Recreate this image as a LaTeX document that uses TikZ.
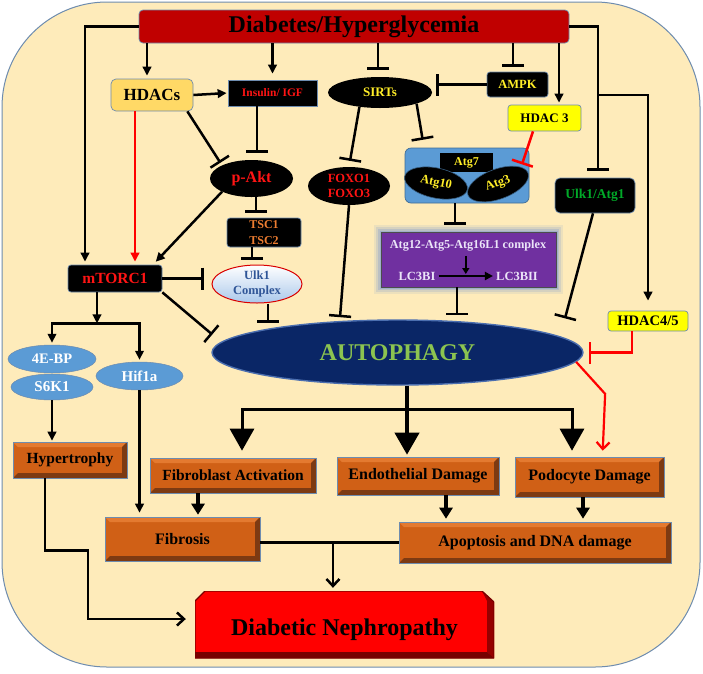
\documentclass[tikz,border=0pt]{standalone}
\usepackage{fontspec}
\setmainfont{Liberation Serif}
\usetikzlibrary{arrows.meta,shapes.geometric,calc}
\definecolor{bgc}{RGB}{254,235,186}
\definecolor{bordc}{RGB}{110,140,175}
\definecolor{diabc}{RGB}{192,0,0}
\definecolor{hdacc}{RGB}{255,217,102}
\definecolor{yel}{RGB}{255,255,0}
\definecolor{txtyel}{RGB}{255,238,40}
\definecolor{txtred}{RGB}{255,20,20}
\definecolor{blu}{RGB}{91,155,213}
\definecolor{purp}{RGB}{112,48,160}
\definecolor{tscc}{RGB}{237,125,49}
\definecolor{ulkt}{RGB}{47,85,151}
\definecolor{ulkbot}{RGB}{170,200,235}
\definecolor{grn}{RGB}{0,170,40}
\definecolor{autog}{RGB}{140,196,80}
\definecolor{navyf}{RGB}{10,38,102}
\definecolor{navyr}{RGB}{75,110,175}
\definecolor{orf}{RGB}{208,96,22}
\definecolor{ordk}{RGB}{125,58,18}
\definecolor{orlt}{RGB}{228,122,48}
\definecolor{dnred}{RGB}{255,0,0}
\definecolor{dndk}{RGB}{150,0,0}
\definecolor{dndk2}{RGB}{120,0,0}
\definecolor{glowc}{RGB}{110,145,210}
\definecolor{lctxt}{RGB}{235,228,248}
\newcommand{\fsz}[2]{\fontsize{#1pt}{#2pt}\selectfont\bfseries}
\begin{document}
\begin{tikzpicture}[x=1pt,y=-1pt,
 ln/.style={line width=2.5pt, line join=miter},
 arr/.style={-{Triangle[length=9pt,width=8.5pt]}},
 inh/.style={-{Bar[width=22pt]}},
 oarr/.style={-{Straight Barb[length=7pt,width=13pt]}},
 bigtip/.style={-{Triangle[length=22pt,width=24pt]}},
 medarr/.style={line width=3.5pt,-{Triangle[length=11pt,width=13pt]}},
 bx/.style={inner sep=0pt, align=center, draw=bordc, line width=0.7pt},
 blk/.style={bx, fill=black},
 el/.style={ellipse, inner sep=0pt, align=center},
 bev/.style={bx, fill=orf, line width=0.6pt, font=\fsz{16}{18},
  path picture={
   \fill[orlt] (path picture bounding box.north west) -- (path picture bounding box.north east) -- ([xshift=-5pt,yshift=-5pt]path picture bounding box.north east) -- ([xshift=5pt,yshift=-5pt]path picture bounding box.north west) -- cycle;
   \fill[ordk] (path picture bounding box.north east) -- (path picture bounding box.south east) -- (path picture bounding box.south west) -- ([xshift=5pt,yshift=5pt]path picture bounding box.south west) -- ([xshift=-5pt,yshift=5pt]path picture bounding box.south east) -- ([xshift=-5pt,yshift=-5pt]path picture bounding box.north east) -- cycle;
  }},
]
\fill[white] (0,0) rectangle (703,673);
\useasboundingbox (0,0) rectangle (703,673);
\draw[bordc, line width=1pt, fill=bgc, rounded corners=105pt] (2,2) rectangle (700,667);

% nodes
\node[bx, fill=diabc, rounded corners=4pt, minimum width=430pt, minimum height=33pt, font=\fsz{24}{28}] (diab) at (354,26.5) {Diabetes/Hyperglycemia};
\node[bx, fill=hdacc, rounded corners=5pt, minimum width=82pt, minimum height=32pt, font=\fsz{17}{20}] (hdacs) at (152,95) {HDACs};
\node[blk, minimum width=89pt, minimum height=26pt, text=txtred, font=\fsz{11.5}{13}] (ins) at (272.5,93) {Insulin/ IGF};
\node[el, fill=black, minimum width=83pt, minimum height=37pt, text=txtred, font=\fsz{16}{18}] (pakt) at (251.5,178.5) {p-Akt};
\node[el, fill=black, minimum width=104pt, minimum height=31pt, text=txtyel, font=\fsz{13}{15}] (sirts) at (380,92.5) {SIRTs};
\node[blk, rounded corners=3pt, minimum width=61pt, minimum height=25pt, text=txtyel, font=\fsz{12.5}{14}] (ampk) at (517.5,84.5) {AMPK};
\node[bx, fill=yel, rounded corners=3pt, minimum width=73pt, minimum height=26pt, font=\fsz{13}{15}] (hdac3) at (544.5,118) {HDAC 3};
\node[el, fill=black, minimum width=82pt, minimum height=38pt, text=txtred, font=\fsz{12.5}{15}] (foxo) at (349,186) {FOXO1\\FOXO3};
\node[blk, rounded corners=3pt, minimum width=74pt, minimum height=29pt, text=tscc, font=\fsz{12}{15.5}] (tsc) at (264,232.5) {TSC1\\TSC2};
\node[blk, rounded corners=3pt, minimum width=94pt, minimum height=27pt, text=txtred, font=\fsz{15.5}{18}] (mtor) at (115,278.5) {mTORC1};
\node[el, top color=white, bottom color=ulkbot, draw=red!85!black, line width=1pt, minimum width=90pt, minimum height=38pt, text=ulkt, font=\fsz{12.5}{15.5}] (ulkc) at (257,284) {Ulk1\\Complex};

\node[bx, fill=blu, draw=blu!70!black, rounded corners=6pt, minimum width=124pt, minimum height=55pt] (atgc) at (467,175.5) {};
\node[fill=black, inner sep=0pt, minimum width=53pt, minimum height=19pt, text=txtyel, font=\fsz{12}{14}] (atg7) at (466.5,162.5) {Atg7};
\node[el, fill=black, draw=blu!60!black, line width=0.6pt, minimum width=64pt, minimum height=30pt, rotate=-12, text=txtyel, font=\fsz{12.5}{14}] (atg10) at (436,183) {Atg10};
\node[el, fill=black, draw=blu!60!black, line width=0.6pt, minimum width=64pt, minimum height=30pt, rotate=20, text=txtyel, font=\fsz{12.5}{14}] (atg3) at (498,184) {Atg3};

\foreach \w/\o in {14/0.12,10/0.18,6/0.25,3/0.35}
  \draw[glowc, line width=\w pt, opacity=\o] (381,232) rectangle (556,287);
\node[fill=purp, draw=black!70, line width=0.8pt, minimum width=175pt, minimum height=55pt, inner sep=0pt] (purple) at (468.5,259.5) {};
\node[inner sep=0pt, text=lctxt, font=\fsz{12.2}{14}] (cplx) at (468,246) {Atg12-Atg5-Atg16L1 complex};
\node[inner sep=0pt, text=lctxt, font=\fsz{12.5}{14}] (lc1) at (417,276) {LC3BI};
\node[inner sep=0pt, text=lctxt, font=\fsz{12.5}{14}] (lc2) at (517,276) {LC3BII};

\node[blk, rounded corners=5pt, minimum width=80pt, minimum height=35pt, text=grn, font=\fsz{13.5}{16}] (ulka) at (595,195.5) {Ulk1/Atg1};
\node[bx, fill=yel, rounded corners=3pt, minimum width=80pt, minimum height=20pt, font=\fsz{14.5}{16}] (hdac45) at (648,321) {HDAC4/5};

\node[el, fill=navyf, draw=navyr, line width=1.4pt, minimum width=371pt, minimum height=65pt, text=autog, font=\fsz{24}{28}] (auto) at (397.5,352.5) {AUTOPHAGY};

\node[el, fill=blu, draw=bordc, line width=0.5pt, minimum width=88pt, minimum height=28pt, text=white, font=\fsz{14.5}{16}] (ebp) at (52,359) {4E-BP};
\node[el, fill=blu, draw=bordc, line width=0.5pt, minimum width=82pt, minimum height=26pt, text=white, font=\fsz{15}{16}] (s6k) at (52,387) {S6K1};
\node[el, fill=blu, draw=bordc, line width=0.5pt, minimum width=87pt, minimum height=28pt, text=white, font=\fsz{15}{16}] (hif) at (139.5,376) {Hif1a};

\node[bev, minimum width=114pt, minimum height=36pt, font=\fsz{15.5}{18}] (hyper) at (70,460) {Hypertrophy};
\node[bev, minimum width=166pt, minimum height=35pt, font=\fsz{15.5}{18}] (fibact) at (233,475.5) {Fibroblast Activation};
\node[bev, minimum width=162pt, minimum height=38pt] (endo) at (418,476) {Endothelial Damage};
\node[bev, minimum width=149pt, minimum height=40pt] (podo) at (589.5,477) {Podocyte Damage};
\node[bev, minimum width=155pt, minimum height=44pt] (fibro) at (182.5,539) {Fibrosis};
\node[bev, minimum width=272pt, minimum height=41pt] (apop) at (535,542.5) {Apoptosis and DNA damage};

\node[inner sep=0pt, minimum width=299pt, minimum height=67pt, text height=22pt, text depth=0pt, font=\fsz{24}{28},
 path picture={
  \fill[dnred] ([xshift=10pt]path picture bounding box.north west) -- ([xshift=-12pt]path picture bounding box.north east) -- ([yshift=-11pt]path picture bounding box.north east) -- (path picture bounding box.south east) -- (path picture bounding box.south west) -- ([yshift=-10pt]path picture bounding box.north west) -- cycle;
  \fill[dndk] ([xshift=-12pt]path picture bounding box.north east) -- ([yshift=-11pt]path picture bounding box.north east) -- (path picture bounding box.south east) -- ([xshift=-7pt,yshift=6pt]path picture bounding box.south east) -- ([xshift=-7pt,yshift=-10pt]path picture bounding box.north east) -- cycle;
  \fill[dndk2] ([xshift=-7pt,yshift=6pt]path picture bounding box.south east) -- (path picture bounding box.south east) -- (path picture bounding box.south west) -- ([yshift=6pt]path picture bounding box.south west) -- cycle;
  \draw[dndk2, line width=1.2pt] ([xshift=10pt]path picture bounding box.north west) -- ([xshift=-12pt]path picture bounding box.north east) -- ([yshift=-11pt]path picture bounding box.north east) -- (path picture bounding box.south east) -- (path picture bounding box.south west) -- ([yshift=-10pt]path picture bounding box.north west) -- cycle;
 }] (dn) at (344.5,624.5) {Diabetic Nephropathy};

% connectors
\draw[ln,arr,shorten >=3pt] (diab.west) -| ([xshift=-30pt]mtor.north);
\draw[ln,arr,shorten >=3pt] ([xshift=-5pt]hdacs.north |- diab.south) -- ([xshift=-5pt]hdacs.north);
\draw[ln,arr,shorten >=6pt] (ins.north |- diab.south) -- (ins.north);
\draw[ln,arr,shorten >=1pt] (hdacs.east) -- (ins.west);
\draw[ln,inh,shorten >=3pt] ([xshift=-6pt]hdacs.south east) -- (pakt.north west);
\draw[ln,inh,shorten >=7pt] ([xshift=-15.5pt]ins.south) -- ([xshift=5.5pt]pakt.north);
\draw[ln,red,arr,shorten >=3pt] ([xshift=-17pt]hdacs.south) -- ([xshift=20pt]mtor.north);
\draw[ln,arr,shorten >=4pt] (pakt.south west) -- ([xshift=38pt]mtor.north);
\draw[ln,inh,shorten >=5pt] ([xshift=4.5pt]pakt.south) -- ([xshift=-8pt]tsc.north);
\draw[ln,inh,shorten >=5pt] ([xshift=-12pt]tsc.south) -- ([xshift=-5pt]ulkc.north);
\draw[ln,inh,shorten >=8pt] (mtor.east) -- (mtor.east -| ulkc.west);
\draw[ln,inh] (mtor.south east) -- ([xshift=1pt,yshift=18pt]auto.west);
\draw[ln,inh] ([xshift=11pt]ulkc.south) -- ++(0,19);
\draw[ln,inh] (foxo.south) -- ++(-9,112);
\draw[ln,inh,shorten >=7pt] ([xshift=-2pt]sirts.north |- diab.south) -- ([xshift=-2pt]sirts.north);
\draw[ln,inh,shorten >=6pt] (sirts.-145) -- (foxo.north);
\draw[ln,inh,shorten >=8pt] (sirts.-17) -- ([xshift=-43pt]atgc.north);
\draw[ln,inh,shorten >=5pt] ([xshift=-4.5pt]ampk.north |- diab.south) -- ([xshift=-4.5pt]ampk.north);
\draw[ln,inh,shorten >=4pt] (ampk.west) -- (ampk.west -| sirts.east);
\draw[ln,arr,shorten >=2pt] ([xshift=14.5pt]hdac3.north |- diab.south) -- ([xshift=14.5pt]hdac3.north);
\draw[ln,red,inh] ([xshift=-11.5pt]hdac3.south) -- ++(-11,33);
\draw[ln,inh,shorten >=7pt] ([xshift=-12pt]atgc.south) -- ([xshift=-12pt]atgc.south |- purple.north);
\coordinate (lcm) at ($(lc1.east)!0.5!(lc2.west)$);
\draw[line width=2pt,-{Triangle[length=8pt,width=8pt]},shorten <=3pt,shorten >=3pt] (lc1.east) -- (lc2.west);
\draw[line width=2pt,-{Triangle[length=6pt,width=7pt]},shorten <=4pt,shorten >=2pt] (lcm |- cplx.south) -- (lcm);
\draw[ln,inh] ([xshift=-11.5pt]purple.south) -- ++(0,28);
\draw[ln,inh] ([xshift=-2pt]ulka.south) -- ++(-28,105);
\draw[ln,inh,shorten >=7pt] (diab.east) -| coordinate[pos=0.726] (br) ([xshift=3pt]ulka.north);
\draw[ln,arr,shorten >=10pt] (br) -| (hdac45.north);
\draw[ln,red,inh] ([xshift=-16pt]hdac45.south) |- ([xshift=5pt]auto.east);
\draw[line width=2.2pt,red,oarr,shorten >=6pt] (auto.-3.4) -- ++(29,32) -- ([xshift=13pt]podo.north);

\draw[line width=4pt,bigtip,shorten >=2pt] ([xshift=9.5pt]auto.south) -- coordinate[pos=0.333] (hub) ([xshift=-11pt]endo.north);
\draw[line width=3pt,bigtip,shorten >=7pt] (hub) -| ([xshift=9pt]fibact.north);
\draw[line width=3pt,bigtip,shorten >=6pt] (hub) -| ([xshift=-17.5pt]podo.north);

\draw[ln,arr] ([xshift=-18pt]mtor.south) -- ++(0,31) coordinate (mb);
\draw[ln,arr,shorten >=2pt] (mb) -| (ebp.north);
\draw[ln,arr,shorten >=2pt] (mb) -| (hif.north);
\draw[ln,arr,shorten >=1pt] (s6k.south) -- (s6k.south |- hyper.north);
\draw[ln,arr,shorten >=4pt] (hif.south) -- (hif.south |- fibro.north);
\draw[medarr,shorten >=2pt] ([xshift=-35pt]fibact.south) -- ([xshift=-35pt]fibact.south |- fibro.north);
\draw[medarr,shorten >=3pt] ([xshift=28pt]endo.south) -- ([xshift=28pt]endo.south |- apop.north);
\draw[medarr,shorten >=3pt] ([xshift=-6.5pt]podo.south) -- ([xshift=-6.5pt]podo.south |- apop.north);
\draw[ln,oarr,shorten >=9pt] ([xshift=-25pt]hyper.south) -- ++(0,72) -- ++(43,0) |- ([yshift=5.5pt]dn.west);
\draw[ln] (fibro.east |- apop.west) -- coordinate[pos=0.525] (fj) (apop.west);
\draw[ln,oarr,shorten >=3pt] (fj) -- (fj |- dn.north);
\end{tikzpicture}
\end{document}
